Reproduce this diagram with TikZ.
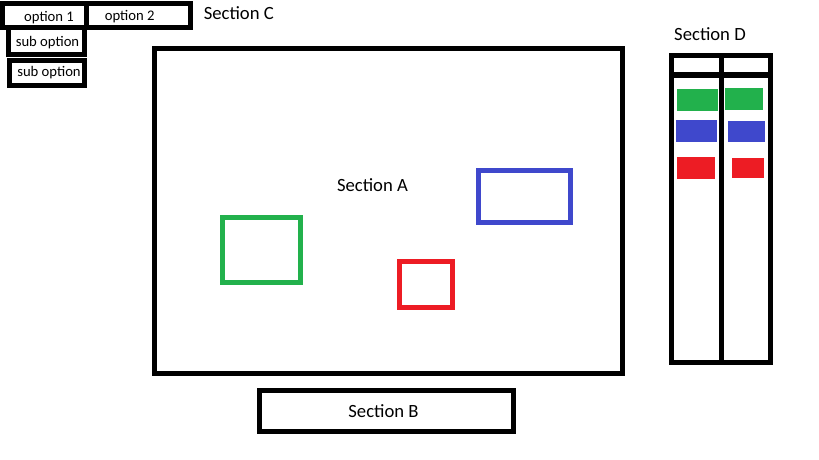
\documentclass[tikz,border=0pt]{standalone}
\usepackage{fontspec}
\setmainfont{Carlito}
\definecolor{pgreen}{HTML}{22B14C}
\definecolor{pblue}{HTML}{3F48CC}
\definecolor{pred}{HTML}{ED1C24}
\begin{document}
\begin{tikzpicture}[x=1pt,y=-1pt,
  blackbox/.style={draw=black,line width=5pt},
  colbox/.style={line width=5pt},
  big/.style={inner sep=0pt,anchor=base,font=\fontsize{18.67}{20}\selectfont},
  small/.style={inner sep=0pt,anchor=base,font=\fontsize{14.67}{16}\selectfont}]
\useasboundingbox (0,0) rectangle (819,460);
\fill[white] (0,0) rectangle (819,460);
% Section C menu
\draw[blackbox] (2.5,3.5) rectangle (190,27.5);
\draw[blackbox] (86,3.5) -- (86,27.5);
\draw[blackbox] (8.5,27.5) rectangle (84.2,54.8);
\draw[blackbox] (9.8,60.2) rectangle (84.2,85.8);
\node[small] (opt1) at (49,21.3) {option 1};
\node[small] (opt2) at (129.7,20.7) {option 2};
\node[small] (sub1) at (47.5,46.3) {sub option};
\node[small] (sub2) at (49,76.5) {sub option};
\node[big] (secC) at (238.8,19.3) {Section C};
% Section A
\draw[blackbox] (154.3,48.5) rectangle (622.5,373);
\draw[colbox,draw=pgreen] (222.5,217.5) rectangle (300.2,282);
\draw[colbox,draw=pblue] (478.5,170.8) rectangle (570.5,222.2);
\draw[colbox,draw=pred] (399.5,261.5) rectangle (452.5,307);
\node[big] (secA) at (372.5,191) {Section A};
% Section B
\draw[blackbox] (259,390) rectangle (513,431);
\node[big] (secB) at (383.5,417.3) {Section B};
% Section D
\node[big] (secD) at (710,40.7) {Section D};
\draw[blackbox] (671.5,55.5) rectangle (770.5,362);
\draw[blackbox] (671.5,75) -- (770.5,75);
\draw[blackbox] (721.3,55.5) -- (721.3,362);
\fill[pgreen] (676.7,89) rectangle (718,110.7);
\fill[pgreen] (725,88) rectangle (763,110);
\fill[pblue] (676,120) rectangle (717,142);
\fill[pblue] (728,121) rectangle (765,142);
\fill[pred] (677,157) rectangle (715,179);
\fill[pred] (732,158) rectangle (764,178);
\end{tikzpicture}
\end{document}
